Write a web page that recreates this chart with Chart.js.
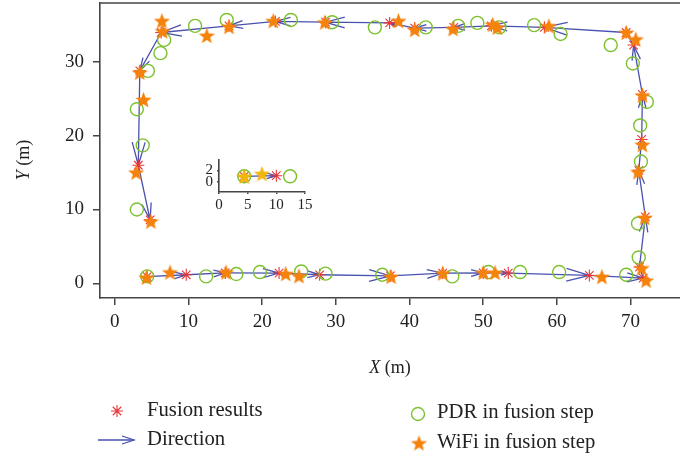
<!DOCTYPE html>
<html>
<head>
<meta charset="utf-8">
<script src="https://cdn.jsdelivr.net/npm/chart.js@4.4.0/dist/chart.umd.min.js"></script>
<style>
  html, body { margin: 0; padding: 0; background: #fff; }
  #wrap { position: relative; width: 680px; height: 458px; }
  #mainChart { position: absolute; left: 0; top: 0; }
  #insetChart { position: absolute; left: 190px; top: 150px; }
</style>
</head>
<body>
<div id="wrap">
  <canvas id="mainChart" width="680" height="458"></canvas>
  <canvas id="insetChart" width="130" height="70"></canvas>
</div>
<script>
// fused trajectory (walk order)
const fusionX = [4.4, 9.7, 15.0, 22.3, 27.8, 37.4, 44.5, 50.0, 53.4, 64.4, 71.7,
                 71.2, 72.0, 71.1, 71.5, 71.6, 70.4, 69.4,
                 58.3, 51.1, 46.0, 40.7, 37.3, 28.6, 21.8, 15.5, 6.3,
                 3.4, 3.2, 4.8];
const fusionY = [0.9, 1.15, 1.4, 1.38, 1.15, 1.0, 1.38, 1.4, 1.38, 1.06, 0.7,
                 2.2, 9.0, 15.3, 19.5, 25.6, 32.3, 34.0,
                 34.7, 34.9, 34.7, 34.6, 35.3, 35.4, 35.5, 34.9, 34.0,
                 28.8, 16.0, 8.6];

// PDR positions used in each fusion step
const pdrX = [4.4, 12.4, 16.5, 19.7, 25.3, 28.6, 36.3, 45.8, 50.7, 55.0, 60.3, 69.4,
              71.1, 71.0, 71.4, 71.3, 72.2, 70.3, 67.3,
              60.5, 56.9, 52.2, 49.2, 46.6, 42.2, 35.3, 29.5, 23.9, 15.2, 10.9, 6.7,
              6.2, 4.5, 3.0, 3.8, 3.0];
const pdrY = [0.93, 0.93, 1.25, 1.52, 1.6, 1.3, 1.15, 0.93, 1.52, 1.52, 1.52, 1.15,
              3.5, 8.1, 16.5, 21.4, 24.6, 29.8, 32.3,
              33.8, 35.0, 34.7, 35.3, 34.9, 34.7, 34.7, 35.4, 35.7, 35.7, 34.9, 33.0,
              31.2, 28.8, 23.6, 18.7, 10.0];

// WiFi positions used in each fusion step
const wifiX = [4.3, 7.5, 15.1, 23.2, 25.0, 37.5, 44.5, 50.0, 51.6, 66.1, 72.1,
               71.5, 71.9, 71.0, 71.6, 71.6, 70.7, 69.4,
               58.9, 51.9, 51.3, 45.9, 40.7, 38.5, 28.5, 21.5, 15.5, 12.5, 6.5, 6.4,
               3.4, 3.9, 2.9, 4.9];
const wifiY = [0.8, 1.5, 1.5, 1.3, 1.0, 0.93, 1.38, 1.45, 1.45, 0.9, 0.4,
               2.07, 8.9, 15.1, 18.8, 25.5, 33.1, 34.0,
               34.9, 34.7, 35.1, 34.5, 34.4, 35.6, 35.4, 35.6, 34.8, 33.6, 34.2, 35.6,
               28.6, 24.9, 15.05, 8.4];

// close-up of the first step
const insetFusionX = [4.4, 10.0];
const insetFusionY = [1.0, 1.1];
const insetPdrX = [4.4, 12.4];
const insetPdrY = [1.0, 1.0];
const insetWifiX = [4.4, 7.5];
const insetWifiY = [1.0, 1.45];

const xTicks = [0, 10, 20, 30, 40, 50, 60, 70];
const yTicks = [0, 10, 20, 30];
const insetXTicks = [0, 5, 10, 15];
const insetYTicks = [0, 2];

const RED = '#e8363a';
const GREEN = '#7cc22e';
const ORANGE = '#f5820a';
const GOLD = '#f2b50c';
const BLUE = '#4a52b0';
const AXIS = '#444';
const SERIF = '"Liberation Serif", "DejaVu Serif", serif';

function toPoints(xs, ys) {
  return xs.map((v, i) => ({ x: v, y: ys[i] }));
}

// filled five-point star as a point image
function makeStar(color, r) {
  const size = Math.ceil(r * 2 + 2);
  const c = document.createElement('canvas');
  c.width = size; c.height = size;
  const g = c.getContext('2d');
  g.translate(size / 2, size / 2 + r * 0.1);
  g.beginPath();
  for (let i = 0; i < 10; i++) {
    const rad = i % 2 === 0 ? r : r * 0.42;
    const a = -Math.PI / 2 + i * Math.PI / 5;
    g.lineTo(rad * Math.cos(a), rad * Math.sin(a));
  }
  g.closePath();
  g.fillStyle = color;
  g.fill();
  return c;
}

// shaft plus open head, head grows with the step length up to a cap
function drawArrow(ctx, x0, y0, x1, y1) {
  const dx = x1 - x0, dy = y1 - y0;
  const len = Math.hypot(dx, dy);
  if (len < 0.5) return;
  const ux = dx / len, uy = dy / len;
  const hl = Math.min(0.3 * len, 23), hw = 0.28 * hl;
  ctx.beginPath();
  ctx.moveTo(x0, y0);
  ctx.lineTo(x1, y1);
  ctx.moveTo(x1 - ux * hl - uy * hw, y1 - uy * hl + ux * hw);
  ctx.lineTo(x1, y1);
  ctx.lineTo(x1 - ux * hl + uy * hw, y1 - uy * hl - ux * hw);
  ctx.stroke();
}

// quiver-style arrows between consecutive fused points
function pathPlugin(xs, ys) {
  return {
    id: 'fusionPath',
    beforeDatasetsDraw(chart) {
      const { ctx, chartArea, scales } = chart;
      ctx.save();
      ctx.beginPath();
      ctx.rect(chartArea.left, chartArea.top, chartArea.width, chartArea.height);
      ctx.clip();
      ctx.strokeStyle = BLUE;
      ctx.lineWidth = 1.3;
      for (let i = 0; i < xs.length - 1; i++) {
        drawArrow(ctx,
          scales.x.getPixelForValue(xs[i]), scales.y.getPixelForValue(ys[i]),
          scales.x.getPixelForValue(xs[i + 1]), scales.y.getPixelForValue(ys[i + 1]));
      }
      ctx.restore();
    }
  };
}

function drawAsterisk(ctx, x, y, r) {
  ctx.beginPath();
  ctx.moveTo(x - r, y); ctx.lineTo(x + r, y);
  ctx.moveTo(x, y - r); ctx.lineTo(x, y + r);
  const d = r * Math.SQRT1_2;
  ctx.moveTo(x - d, y - d); ctx.lineTo(x + d, y + d);
  ctx.moveTo(x - d, y + d); ctx.lineTo(x + d, y - d);
  ctx.stroke();
}

function mixedLabel(ctx, x, y, size) {
  const italic = 'italic ' + size + 'px ' + SERIF;
  const normal = size + 'px ' + SERIF;
  ctx.font = italic;
  const w1 = ctx.measureText(x).width;
  ctx.font = normal;
  const w2 = ctx.measureText(y).width;
  return { italic, normal, w1, w2, total: w1 + w2 };
}

// top frame line, axis titles and legend
const decorPlugin = {
  id: 'decor',
  afterDraw(chart) {
    const { ctx, chartArea } = chart;
    ctx.save();
    ctx.strokeStyle = AXIS;
    ctx.lineWidth = 1.6;
    ctx.beginPath();
    ctx.moveTo(chartArea.left - 0.8, chartArea.top);
    ctx.lineTo(chartArea.right, chartArea.top);
    ctx.stroke();

    ctx.fillStyle = '#222';
    ctx.textBaseline = 'middle';
    ctx.textAlign = 'left';

    // X (m)
    let m = mixedLabel(ctx, 'X', ' (m)', 18);
    let sx = 390 - m.total / 2;
    ctx.font = m.italic; ctx.fillText('X', sx, 368);
    ctx.font = m.normal; ctx.fillText(' (m)', sx + m.w1, 368);

    // Y (m)
    ctx.save();
    ctx.translate(24, 160);
    ctx.rotate(-Math.PI / 2);
    m = mixedLabel(ctx, 'Y', ' (m)', 18);
    sx = -m.total / 2;
    ctx.font = m.italic; ctx.fillText('Y', sx, 0);
    ctx.font = m.normal; ctx.fillText(' (m)', sx + m.w1, 0);
    ctx.restore();

    // legend
    ctx.font = '20.7px ' + SERIF;
    ctx.strokeStyle = RED; ctx.lineWidth = 1.1;
    drawAsterisk(ctx, 117, 411, 6);
    ctx.fillText('Fusion results', 147, 411);

    ctx.strokeStyle = BLUE; ctx.lineWidth = 1.3;
    ctx.beginPath(); ctx.moveTo(98, 440); ctx.lineTo(134, 440); ctx.stroke();
    ctx.beginPath(); ctx.moveTo(122, 436); ctx.lineTo(134, 440); ctx.lineTo(122, 444); ctx.stroke();
    ctx.fillText('Direction', 147, 440);

    ctx.strokeStyle = GREEN; ctx.lineWidth = 1.4;
    ctx.beginPath(); ctx.arc(418, 414, 6.5, 0, Math.PI * 2); ctx.stroke();
    ctx.fillText('PDR in fusion step', 437, 413);

    ctx.drawImage(starOrange, 419 - starOrange.width / 2, 443 - starOrange.height / 2);
    ctx.fillText('WiFi in fusion step', 437, 443);
    ctx.restore();
  }
};

const starOrange = makeStar(ORANGE, 8.5);
const starGold = makeStar(GOLD, 8.5);

function markerSets(fx, fy, px, py, wx, wy, star) {
  return [
    { label: 'WiFi in fusion step', data: toPoints(wx, wy), pointStyle: star,
      pointRadius: 8.5, showLine: false, clip: 10 },
    { label: 'PDR in fusion step', data: toPoints(px, py), pointStyle: 'circle',
      pointRadius: 6.5, pointBorderWidth: 1.4, pointBorderColor: GREEN,
      pointBackgroundColor: 'rgba(0,0,0,0)', showLine: false, clip: 10 },
    { label: 'Fusion results', data: toPoints(fx, fy), pointStyle: 'star',
      pointRadius: 6, pointBorderWidth: 1.1, pointBorderColor: RED, showLine: false, clip: 10 }
  ];
}

// fixed axis box: size set by hand, no label overhang padding
function axisOpts(min, max, ticks, size, tickLen, pad, fit) {
  return {
    type: 'linear', min: min, max: max,
    afterBuildTicks(s) { s.ticks = ticks.map(v => ({ value: v })); },
    afterFit(s) {
      fit(s);
      s.paddingTop = 0; s.paddingBottom = 0;
      s.paddingLeft = 0; s.paddingRight = 0;
    },
    grid: { drawOnChartArea: false, drawTicks: true, tickLength: tickLen, color: AXIS, lineWidth: 1.5 },
    border: { display: true, color: AXIS, width: 1.6 },
    ticks: { font: { family: SERIF, size: size }, color: '#222', padding: pad, maxRotation: 0 }
  };
}

new Chart(document.getElementById('mainChart').getContext('2d'), {
  type: 'scatter',
  data: { datasets: markerSets(fusionX, fusionY, pdrX, pdrY, wifiX, wifiY, starOrange) },
  options: {
    responsive: false,
    devicePixelRatio: 1,
    animation: false,
    layout: { autoPadding: false, padding: { left: 0, right: 0, top: 3, bottom: 0 } },
    plugins: { legend: { display: false }, tooltip: { enabled: false } },
    scales: {
      x: axisOpts(-2, 76.7, xTicks, 19, 7, 6, s => { s.height = 160; }),
      y: axisOpts(-2, 38, yTicks, 19, 7, 9, s => { s.width = 100; })
    }
  },
  plugins: [pathPlugin(fusionX, fusionY), decorPlugin]
});

new Chart(document.getElementById('insetChart').getContext('2d'), {
  type: 'scatter',
  data: { datasets: markerSets(insetFusionX, insetFusionY, insetPdrX, insetPdrY, insetWifiX, insetWifiY, starGold) },
  options: {
    responsive: false,
    devicePixelRatio: 1,
    animation: false,
    layout: { autoPadding: false, padding: { left: 0, right: 15, top: 10, bottom: 0 } },
    plugins: { legend: { display: false }, tooltip: { enabled: false } },
    scales: {
      x: axisOpts(0, 15, insetXTicks, 15, 2, 2, s => { s.height = 28; }),
      y: axisOpts(-1.7, 3.8, insetYTicks, 15, 2, 4, s => { s.width = 29; })
    }
  },
  plugins: [pathPlugin(insetFusionX, insetFusionY)]
});
</script>
</body>
</html>
